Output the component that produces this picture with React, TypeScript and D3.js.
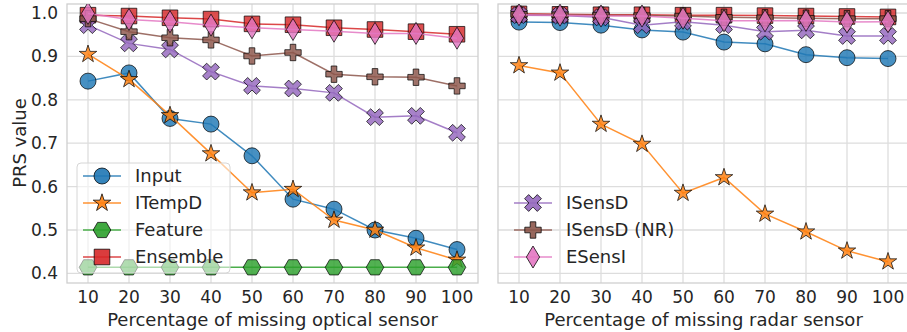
import React from "react";
import * as d3 from "d3";

const missingPct = [10, 20, 30, 40, 50, 60, 70, 80, 90, 100];
const yTicks = [0.4, 0.5, 0.6, 0.7, 0.8, 0.9, 1.0];

// Optical sensor missing (left panel)
const optInput = [0.843, 0.862, 0.757, 0.744, 0.671, 0.571, 0.548, 0.5, 0.481, 0.455];
const optITempD = [0.905, 0.847, 0.764, 0.676, 0.586, 0.594, 0.523, 0.5, 0.459, 0.431];
const optFeature = [0.414, 0.414, 0.414, 0.414, 0.414, 0.414, 0.414, 0.414, 0.414, 0.414];
const optEnsemble = [0.995, 0.993, 0.989, 0.986, 0.975, 0.973, 0.966, 0.962, 0.957, 0.951];
const optISensD = [0.972, 0.93, 0.916, 0.865, 0.832, 0.826, 0.816, 0.76, 0.763, 0.724];
const optISensDNR = [0.987, 0.957, 0.943, 0.938, 0.901, 0.909, 0.859, 0.853, 0.852, 0.832];
const optESensI = [0.999, 0.985, 0.98, 0.972, 0.966, 0.962, 0.958, 0.953, 0.953, 0.942];

// Radar sensor missing (right panel)
const radInput = [0.979, 0.978, 0.972, 0.961, 0.956, 0.933, 0.929, 0.904, 0.897, 0.895];
const radITempD = [0.879, 0.862, 0.744, 0.698, 0.585, 0.621, 0.537, 0.496, 0.452, 0.427];
const radFeature: number[] = [];
const radEnsemble = [0.998, 0.997, 0.996, 0.996, 0.995, 0.995, 0.994, 0.993, 0.992, 0.991];
const radISensD = [0.995, 0.994, 0.99, 0.972, 0.98, 0.972, 0.957, 0.96, 0.947, 0.947];
const radISensDNR = [0.997, 0.996, 0.995, 0.994, 0.993, 0.99, 0.989, 0.988, 0.987, 0.987];
const radESensI = [0.996, 0.995, 0.993, 0.993, 0.988, 0.982, 0.982, 0.983, 0.979, 0.98];

const seriesNames = ["Input", "ITempD", "Feature", "Ensemble", "ISensD", "ISensD (NR)", "ESensI"];
const seriesColors = ["#1f77b4", "#ff7f0e", "#2ca02c", "#d62728", "#9467bd", "#8c564b", "#e377c2"];
const seriesMarkers = ["circle", "star", "hexagon", "square", "xfilled", "plus", "thindiamond"];

const leftLegendIdx = [0, 1, 2, 3];
const rightLegendIdx = [4, 5, 6];

const FONT = "'DejaVu Sans', sans-serif";
const TEXT = "#262626";
const GRID = "#dddddd";

function polygon(pts: [number, number][]) {
  return "M" + pts.map((p) => `${p[0].toFixed(2)},${p[1].toFixed(2)}`).join("L") + "Z";
}

function plusPts(s: number, w: number): [number, number][] {
  return [
    [-w, -s], [w, -s], [w, -w], [s, -w], [s, w], [w, w],
    [w, s], [-w, s], [-w, w], [-s, w], [-s, -w], [-w, -w],
  ];
}

function markerPath(kind: string): string {
  switch (kind) {
    case "circle":
      return d3.symbol(d3.symbolCircle, Math.PI * 8 * 8)() as string;
    case "star":
      return d3.symbol(d3.symbolStar, 95)() as string;
    case "hexagon": {
      const r = 8.8;
      const pts: [number, number][] = d3.range(6).map((i) => {
        const a = (i * Math.PI) / 3;
        return [r * Math.cos(a), r * Math.sin(a)];
      });
      return polygon(pts);
    }
    case "square": {
      const h = 7.8;
      return polygon([[-h, -h], [h, -h], [h, h], [-h, h]]);
    }
    case "xfilled": {
      const c = Math.SQRT1_2;
      const pts = plusPts(9, 2.9).map(([x, y]) => [c * (x - y), c * (x + y)] as [number, number]);
      return polygon(pts);
    }
    case "plus":
      return polygon(plusPts(8.2, 2.8));
    case "thindiamond":
      return polygon([[0, -11], [6.6, 0], [0, 11], [-6.6, 0]]);
  }
  return "";
}

const yScale = d3.scaleLinear().domain([0.4, 1.0]).range([273.4, 13]);
const yTop = 4;
const yBottom = 283;

type PanelProps = {
  id: string;
  left: number;
  right: number;
  data: number[][];
  xLabel: string;
  showYLabels: boolean;
};

function Panel({ id, left, right, data, xLabel, showYLabels }: PanelProps) {
  const x = d3.scaleLinear().domain([10, 100]).range([left + 21, left + 21 + 369]);
  const line = d3
    .line<[number, number]>()
    .x((d) => x(d[0]))
    .y((d) => yScale(d[1]));
  return (
    <g>
      <defs>
        <clipPath id={`clip-${id}`}>
          <rect x={left} y={yTop} width={right - left} height={yBottom - yTop} />
        </clipPath>
      </defs>
      {yTicks.map((t) => (
        <line key={`h${t}`} x1={left} x2={right} y1={yScale(t)} y2={yScale(t)} stroke={GRID} strokeWidth={1.3} />
      ))}
      {missingPct.map((t) => (
        <line key={`v${t}`} x1={x(t)} x2={x(t)} y1={yTop} y2={yBottom} stroke={GRID} strokeWidth={1.3} />
      ))}
      <rect x={left} y={yTop} width={right - left} height={yBottom - yTop} fill="none" stroke="#cfcfcf" strokeWidth={1.3} />
      <g clipPath={`url(#clip-${id})`}>
        {data.map((vals, si) => {
          if (!vals.length) return null;
          const pts = vals.map((v, i) => [missingPct[i], v] as [number, number]);
          const mp = markerPath(seriesMarkers[si]);
          return (
            <g key={si}>
              <path d={line(pts) || ""} fill="none" stroke={seriesColors[si]} strokeWidth={1.5} strokeOpacity={0.85} />
              {pts.map((p, i) => (
                <path
                  key={i}
                  d={mp}
                  transform={`translate(${x(p[0])},${yScale(p[1])})`}
                  fill={seriesColors[si]}
                  fillOpacity={0.82}
                  stroke="#000"
                  strokeOpacity={0.7}
                  strokeWidth={1}
                />
              ))}
            </g>
          );
        })}
      </g>
      {showYLabels &&
        yTicks.map((t) => (
          <text key={`yl${t}`} x={left - 9} y={yScale(t)} dy="0.35em" textAnchor="end" fontFamily={FONT} fontSize={17} fill={TEXT}>
            {t.toFixed(1)}
          </text>
        ))}
      {missingPct.map((t) => (
        <text key={`xl${t}`} x={x(t)} y={303} textAnchor="middle" fontFamily={FONT} fontSize={17} fill={TEXT}>
          {t}
        </text>
      ))}
      <text x={(left + right) / 2} y={326} textAnchor="middle" fontFamily={FONT} fontSize={18} fill={TEXT}>
        {xLabel}
      </text>
    </g>
  );
}

function Legend({ idx, x0, yStart, frame }: { idx: number[]; x0: number; yStart: number; frame: boolean }) {
  const step = 27;
  return (
    <g>
      {frame && (
        <rect
          x={x0 - 6}
          y={yStart - 13}
          width={153}
          height={idx.length * step + 2}
          rx={4}
          fill="#ffffff"
          fillOpacity={0.55}
          stroke="#d6d6d6"
          strokeWidth={1}
        />
      )}
      {idx.map((si, k) => {
        const cy = yStart + k * step;
        return (
          <g key={si}>
            <line x1={x0} x2={x0 + 38} y1={cy} y2={cy} stroke={seriesColors[si]} strokeWidth={1.5} strokeOpacity={0.85} />
            <path
              d={markerPath(seriesMarkers[si])}
              transform={`translate(${x0 + 19},${cy})`}
              fill={seriesColors[si]}
              fillOpacity={0.9}
              stroke="#000"
              strokeOpacity={0.75}
              strokeWidth={1}
            />
            <text x={x0 + 52} y={cy} dy="0.35em" fontFamily={FONT} fontSize={18} fill={TEXT}>
              {seriesNames[si]}
            </text>
          </g>
        );
      })}
    </g>
  );
}

export default function App() {
  const leftData = [optInput, optITempD, optFeature, optEnsemble, optISensD, optISensDNR, optESensI];
  const rightData = [radInput, radITempD, radFeature, radEnsemble, radISensD, radISensDNR, radESensI];
  return (
    <svg
      width={907}
      height={332}
      style={{ position: "absolute", left: 0, top: 0, background: "#fff" }}
    >
      <rect x={0} y={0} width={907} height={332} fill="#fff" />
      <Panel id="opt" left={67} right={478} data={leftData} xLabel="Percentage of missing optical sensor" showYLabels={true} />
      <Panel id="rad" left={498} right={909} data={rightData} xLabel="Percentage of missing radar sensor" showYLabels={false} />
      <text
        transform="translate(26,143) rotate(-90)"
        textAnchor="middle"
        fontFamily={FONT}
        fontSize={18}
        fill={TEXT}
      >
        PRS value
      </text>
      <Legend idx={leftLegendIdx} x0={83} yStart={176} frame={true} />
      <Legend idx={rightLegendIdx} x0={514} yStart={203} frame={false} />
    </svg>
  );
}
